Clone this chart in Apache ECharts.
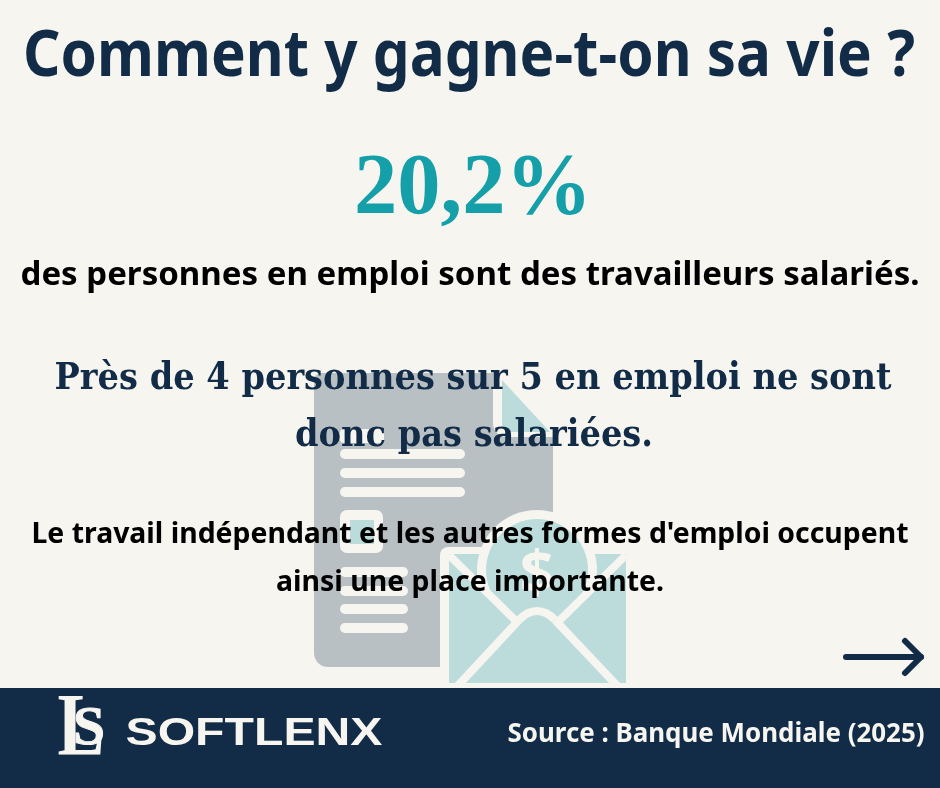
<!DOCTYPE html>
<html><head><meta charset="utf-8">
<style>html,body{margin:0;padding:0;background:#f6f5f0}#c{width:940px;height:788px}</style>
<script src="https://cdn.jsdelivr.net/npm/echarts@6/dist/echarts.min.js"></script>
</head><body><div id="c"></div>
<script>
const titleText = ["Comment y gagne-t-on sa vie ?"];
const heroValue = ["20,2%"];
const heroCaption = ["des personnes en emploi sont des travailleurs salariés."];
const insightLines = ["Près de 4 personnes sur 5 en emploi ne sont", "donc pas salariées."];
const noteLines = ["Le travail indépendant et les autres formes d'emploi occupent", "ainsi une place importante."];
const brandName = ["SOFTLENX"];
const sourceText = ["Source : Banque Mondiale (2025)"];

const NAVY = '#122c48', BG = '#f6f5f0', GREY = '#b9c0c3', TEAL = '#bcdcdc', HERO = '#15a0a9';
const SANS = "'Noto Sans'", SERIF = "'DejaVu Serif'", SERIF2 = "'Liberation Serif'";
const ctx = document.createElement('canvas').getContext('2d');
function fit(text, font, cx, cy, width, fill, z, stroke) {
  ctx.font = font;
  const w = ctx.measureText(text).width;
  const style = { text, font, fill, textAlign: 'center', textVerticalAlign: 'middle' };
  if (stroke) { style.stroke = fill; style.lineWidth = stroke; }
  return { type: 'text', x: cx, y: cy, scaleX: width / w, z: z || 10, style };
}
function pill(x, y, w, h, r, fill, z) {
  return { type: 'rect', z: z || 2, shape: { x, y, width: w, height: h, r }, style: { fill } };
}
function poly(points, fill, z) { return { type: 'polygon', z: z || 2, shape: { points }, style: { fill } }; }
function line(points, z, lw) {
  return { type: 'polyline', z: z || 5, shape: { points }, style: { stroke: BG, lineWidth: lw || 8, fill: 'none' } };
}

const decor = [
  // document
  pill(314, 373, 239, 294, [8, 8, 8, 14], GREY, 1),
  pill(493, 365, 70, 72, [0, 0, 0, 14], BG, 1),
  pill(553, 437, 10, 240, 0, BG, 1),
  poly([[502,380],[550,432],[510,432],[505,430],[502,425]], TEAL, 2),
  pill(340, 429, 44, 14, 4, BG),
  pill(340, 449, 125, 10, 5, BG), pill(340, 468, 125, 10, 5, BG), pill(340, 487, 125, 10, 5, BG),
  pill(340, 510, 43, 43, 7, BG), pill(350, 520, 24, 24, 0, TEAL, 3),
  pill(340, 567, 68, 10, 5, BG), pill(340, 586, 68, 10, 5, BG), pill(340, 604, 68, 10, 5, BG), pill(340, 623, 68, 10, 5, BG),
  // envelope
  pill(440, 547, 195, 141, [8, 8, 0, 0], BG, 3),
  pill(449, 554, 177, 129, 0, TEAL, 4),
  { type: 'circle', z: 5, shape: { cx: 537, cy: 570, r: 60 }, style: { fill: BG } },
  { type: 'circle', z: 6, shape: { cx: 537, cy: 570, r: 51 }, style: { fill: TEAL } },
  { type: 'text', z: 7, x: 537, y: 576, style: { text: '$', font: "bold 60px " + SANS, fill: BG, textAlign: 'center', textVerticalAlign: 'middle' } },
  poly([[449,557],[516,621],[537,607],[559,621],[626,557],[626,683],[449,683]], TEAL, 7),
  line([[449,555],[516,621]], 8), line([[626,555],[559,621]], 8),
  line([[452,692],[519,620]], 8), line([[623,692],[555,620]], 8),
  { type: 'bezierCurve', z: 8, shape: { x1: 519, y1: 620, x2: 555, y2: 620, cpx1: 530, cpy1: 608, cpx2: 544, cpy2: 608 }, style: { stroke: BG, lineWidth: 8, fill: 'none' } },
  // arrow
  { type: 'polyline', z: 10, shape: { points: [[846,657],[921,657]] }, style: { stroke: NAVY, lineWidth: 6, lineCap: 'round', fill: 'none' } },
  { type: 'polyline', z: 10, shape: { points: [[905,641],[921,657],[905,673]] }, style: { stroke: NAVY, lineWidth: 6, lineCap: 'round', lineJoin: 'round', fill: 'none' } },
  // footer
  pill(0, 688, 940, 100, 0, NAVY, 9)
];

const texts = [
  fit(titleText[0], "bold 64px " + SANS, 469, 58, 892, NAVY),
  fit(heroValue[0], "bold 86px " + SERIF2, 473, 191, 238, HERO),
  fit(heroCaption[0], "bold 32px " + SANS, 470, 276, 899, '#000'),
  fit(insightLines[0], "bold 38px " + SERIF, 473, 379, 837, NAVY),
  fit(insightLines[1], "bold 38px " + SERIF, 474, 436, 358, NAVY),
  fit(noteLines[0], "bold 28px " + SANS, 470, 535, 877, '#000'),
  fit(noteLines[1], "bold 28px " + SANS, 470, 583, 388, '#000'),
  fit(sourceText[0], "bold 26px " + SANS, 716, 735, 417, BG),
  fit(brandName[0], "bold 38px 'Liberation Sans'", 254, 735, 257, BG),
  fit('L', "bold 88px " + SERIF2, 81, 731, 47, BG),
  fit('S', "bold 54px " + SERIF2, 89, 730, 32, BG, 10, 1)
];

const chart = echarts.init(document.getElementById('c'), null, { renderer: 'canvas', width: 940, height: 788 });
chart.setOption({ backgroundColor: BG, animation: false, graphic: { elements: decor.concat(texts) } });
</script></body></html>
